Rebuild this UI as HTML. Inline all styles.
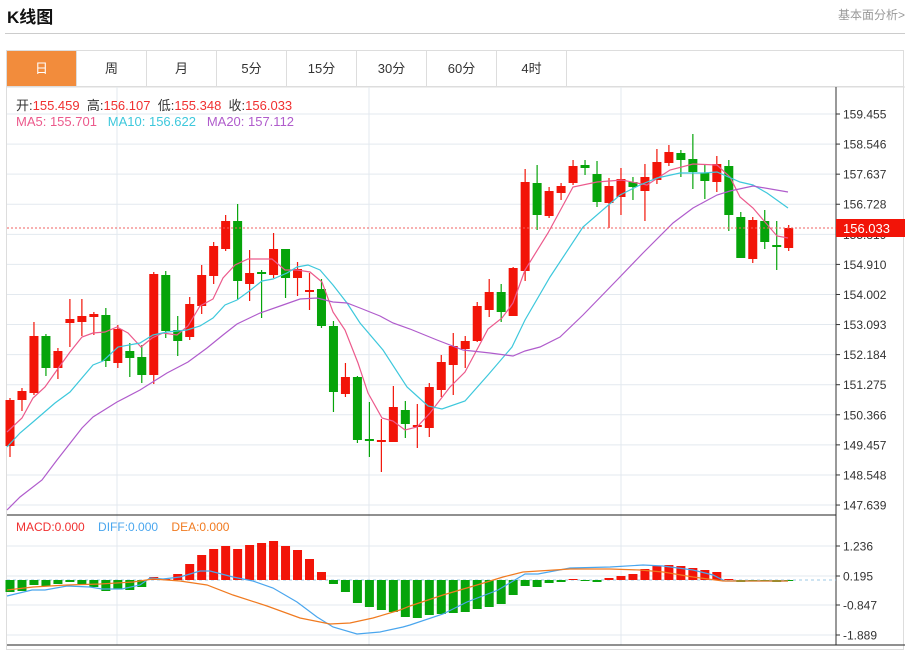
<!DOCTYPE html>
<html><head><meta charset="utf-8"><style>
body{margin:0;width:914px;height:646px;background:#fff;font-family:"Liberation Sans","Noto Sans CJK SC",sans-serif;overflow:hidden;position:relative}
.t{position:absolute;left:7px;top:3px;font-size:17px;font-weight:bold;color:#111}
.r{position:absolute;right:9px;top:6px;font-size:12px;color:#999}
.hl{position:absolute;left:5px;top:33px;width:900px;height:1px;background:#ccc}
.box{position:absolute;left:6px;top:50px;width:898px;height:600px;border:1px solid #ddd;box-sizing:border-box}
.tabs{position:absolute;left:7px;top:51px;height:35px;width:897px;border-bottom:1px solid #ddd}
.tab{position:absolute;top:0;width:69px;height:35px;line-height:35px;text-align:center;font-size:13px;color:#333;border-right:1px solid #ddd}
.tab.on{background:#f28c3c;color:#fff}
.info{position:absolute;left:16px;font-size:13px;color:#333}
.info span{color:#f03030}
</style></head><body>
<div class="t">K线图</div><div class="r">基本面分析&gt;</div><div class="hl"></div>
<div class="box"></div>
<div class="tabs">
<div class="tab on" style="left:0">日</div><div class="tab" style="left:70px">周</div><div class="tab" style="left:140px">月</div><div class="tab" style="left:210px">5分</div><div class="tab" style="left:280px">15分</div><div class="tab" style="left:350px">30分</div><div class="tab" style="left:420px">60分</div><div class="tab" style="left:490px">4时</div>
</div>
<svg id="s" width="914" height="646" style="position:absolute;left:0;top:0"></svg>
<div class="info" style="top:95px">开:<span>155.459</span>&nbsp; 高:<span>156.107</span>&nbsp; 低:<span>155.348</span>&nbsp; 收:<span>156.033</span></div>
<div class="info" style="top:114px;color:#ec5a8c">MA5: 155.701&nbsp;&nbsp; <b style="font-weight:normal;color:#3ec8dc">MA10: 156.622</b>&nbsp;&nbsp; <b style="font-weight:normal;color:#b05ccc">MA20: 157.112</b></div>
<div class="info" style="top:520px;font-size:12px;color:#f03030">MACD:0.000&nbsp;&nbsp;&nbsp; <b style="font-weight:normal;color:#4aa6ee">DIFF:0.000</b>&nbsp;&nbsp;&nbsp; <b style="font-weight:normal;color:#f07a20">DEA:0.000</b></div>
<script>
var R='#f21408',G='#06a40a',h='';
// grid
h+='<line x1="7" y1="87" x2="905" y2="87" stroke="#ddd"/>';
[117,369,621].forEach(function(x){h+='<line x1="'+x+'" y1="87" x2="'+x+'" y2="645" stroke="#e3e9ef"/>'});
var labs=['159.455','158.546','157.637','156.728','155.819','154.910','154.002','153.093','152.184','151.275','150.366','149.457','148.548','147.639'];
labs.forEach(function(l,i){var y=114+i*30.08;h+='<line x1="7" y1="'+y+'" x2="836" y2="'+y+'" stroke="#e3e9ef"/><line x1="836" y1="'+y+'" x2="840" y2="'+y+'" stroke="#333"/><text x="843" y="'+(y+4.5)+'" font-size="12" fill="#333">'+l+'</text>'});
[[546,'1.236'],[576,'0.195'],[605,'-0.847'],[635,'-1.889']].forEach(function(a){h+='<line x1="7" y1="'+a[0]+'" x2="836" y2="'+a[0]+'" stroke="#e3e9ef"/><line x1="836" y1="'+a[0]+'" x2="840" y2="'+a[0]+'" stroke="#333"/><text x="843" y="'+(a[0]+4.5)+'" font-size="12" fill="#333">'+a[1]+'</text>'});
h+='<line x1="836" y1="87" x2="836" y2="645" stroke="#333"/><line x1="7" y1="515" x2="836" y2="515" stroke="#222"/><line x1="7" y1="645" x2="905" y2="645" stroke="#222"/>';
h+='<line x1="7" y1="580" x2="836" y2="580" stroke="#9cc8e6" stroke-dasharray="3,3"/>';
// candles: color, top, bottom, wickTop, wickBot
var C=[[1,400,446,398,457],[1,391,400,388,411],[1,336,393,322,395],[0,336,368,334,376],[1,351,368,348,379],[1,319,323,299,347],[1,316,322,299,336],[1,314,317,312,335],[0,315,361,308,367],[1,329,363,325,368],[0,351,358,343,377],[0,357,375,345,383],[1,274,375,272,384],[0,275,331,271,338],[0,330,341,316,356],[1,304,337,297,340],[1,275,306,265,314],[1,246,276,242,284],[1,221,249,215,251],[0,221,281,204,300],[1,273,284,250,301],[0,272,274,270,318],[1,249,275,233,278],[0,249,278,249,298],[1,269,278,262,296],[1,290,292,273,310],[0,289,326,279,328],[0,326,392,321,412],[1,377,394,363,397],[0,377,440,376,443],[0,439,441,402,457],[1,440,442,419,472],[1,407,442,386,442],[0,410,424,401,438],[1,425,427,404,448],[1,387,428,383,437],[1,362,390,355,397],[1,346,365,333,395],[1,341,349,336,368],[1,306,341,302,342],[1,292,310,279,317],[0,292,312,284,322],[1,268,316,267,316],[1,182,271,169,281],[0,183,215,165,230],[1,191,216,187,218],[1,186,193,183,200],[1,166,183,160,185],[0,165,168,160,175],[0,174,202,161,207],[1,186,203,178,228],[1,179,197,168,215],[0,182,187,177,200],[1,177,191,164,221],[1,162,180,149,184],[1,152,163,145,166],[0,153,160,150,177],[0,159,172,134,189],[0,173,181,164,199],[1,164,182,156,192],[0,166,215,160,231],[0,217,258,212,258],[1,220,259,217,263],[0,221,242,210,249],[0,245,247,221,270],[1,228,248,225,251]];
C.forEach(function(c,i){var x=10+i*11.98,col=c[0]?R:G;h+='<line x1="'+x+'" y1="'+c[3]+'" x2="'+x+'" y2="'+c[4]+'" stroke="'+col+'" stroke-width="1.2"/><rect x="'+(x-4.5)+'" y="'+c[1]+'" width="9" height="'+Math.max(2,c[2]-c[1])+'" fill="'+col+'"/>'});
function pl(p,col){h+='<polyline fill="none" stroke="'+col+'" stroke-width="1.2" points="'+p+'"/>'}
pl('7,432 22,418 33,398 45,387 57,370 70,352 82,337 93,333 105,332 117,327 128,333 141,347 152,338 163,333 177,335 188,326 200,306 213,299 223,278 235,265 248,259 272,259 285,270 297,270 310,272 322,282 333,312 345,330 358,363 368,393 382,418 393,421 405,430 417,427 430,413 450,387 465,372 488,329 502,318 513,303 525,270 548,233 573,187 597,182 622,180 647,185 670,170 693,164 717,165 730,177 740,197 753,208 777,236 788,238','#ec5a8c');
pl('7,447 20,433 33,422 55,403 70,392 93,365 103,361 118,347 140,343 153,335 167,332 187,330 200,326 213,318 225,305 237,300 248,292 262,281 273,279 287,273 297,267 308,265 320,270 333,285 347,303 360,323 383,350 407,387 417,396 428,406 442,409 465,401 488,375 512,347 525,320 550,277 583,227 620,195 640,185 657,178 680,173 703,173 717,172 740,182 753,185 767,193 788,208','#3ec8dc');
pl('7,510 20,497 42,480 57,460 82,428 93,417 117,402 140,390 167,373 188,362 207,348 223,335 237,324 260,313 283,305 300,299 317,298 333,302 347,303 360,308 380,316 393,323 410,329 437,340 463,350 490,353 513,356 525,351 540,347 560,337 583,315 617,280 643,253 673,223 693,208 717,195 730,191 753,186 788,192','#b05ccc');
h+='<line x1="7" y1="228" x2="836" y2="228" stroke="#f06060" stroke-dasharray="2,2"/><rect x="836" y="219" width="69" height="18" fill="#f21408"/><text x="843" y="233" font-size="13" fill="#fff">156.033</text>';
// MACD bars (end y)
var M=[592,591,585,586,584,582,584,587,591,589,590,587,577,579,574,564,555,549,546,549,545,543,541,546,550,559,572,584,592,603,607,610,612,617,618,615,614,613,612,609,607,604,595,586,587,583,582,579,581,582,578,576,574,569,566,565,566,568,570,572,579,582,581,581,582,581];
M.forEach(function(e,i){var x=10+i*11.98,t=Math.min(e,580),b=Math.max(e,580);h+='<rect x="'+(x-4.5)+'" y="'+t+'" width="9" height="'+Math.max(0.5,b-t)+'" fill="'+(e<580?R:G)+'"/>'});
pl('7,596 32,590 45,590 67,586 90,587 102,589 122,589 140,585 150,578 163,579 180,577 200,571 210,571 233,577 253,581 273,588 297,602 317,617 333,627 357,634 380,632 403,627 410,625 443,614 467,602 498,590 525,574 538,574 570,568 610,567 643,565 663,566 693,570 713,575 725,581 743,581 788,581','#4aa6ee');
pl('7,590 33,587 67,585 100,584 133,582 153,579 180,581 207,585 233,595 267,606 300,618 330,624 350,623 373,618 400,610 410,606 443,595 477,585 503,577 523,572 570,569 610,569 640,570 663,572 693,577 723,581 788,581','#f07a20');
document.getElementById('s').innerHTML=h;
</script>
</body></html>
